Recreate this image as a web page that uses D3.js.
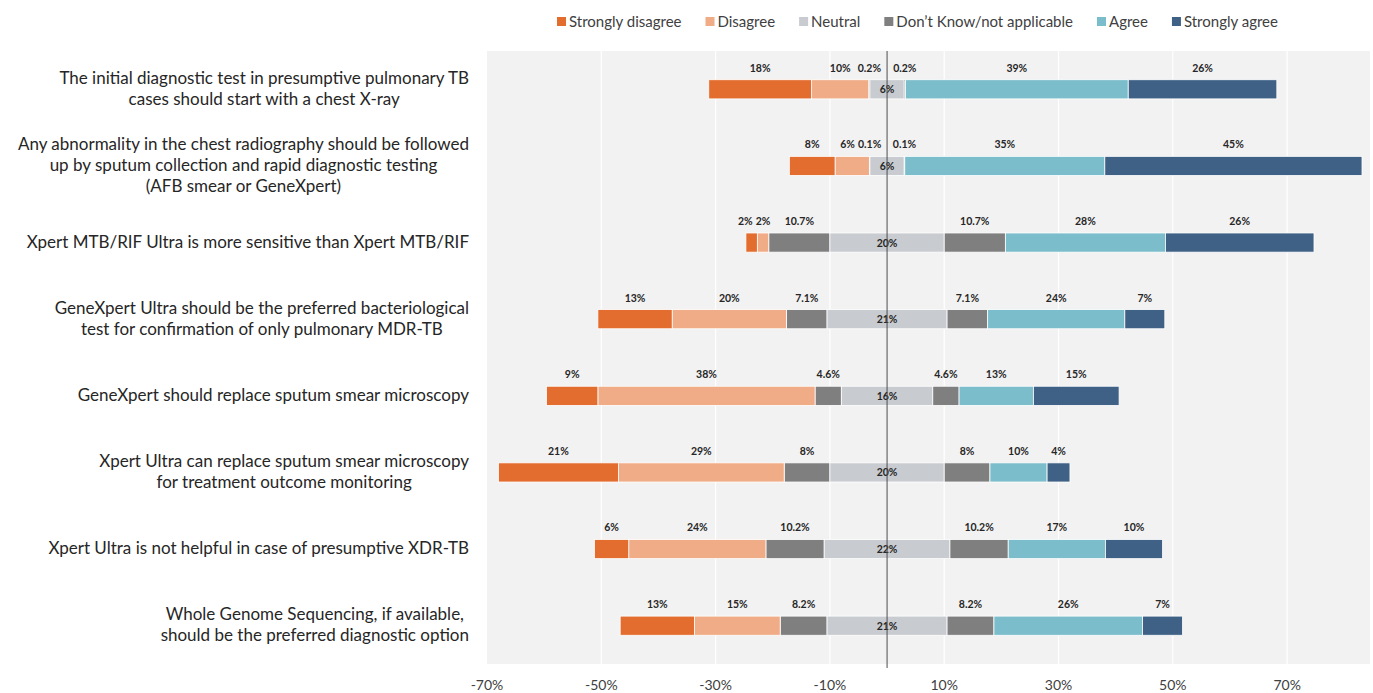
<!DOCTYPE html>
<html lang="en">
<head>
<meta charset="utf-8">
<title>Diverging stacked bar</title>
<script src="https://cdn.jsdelivr.net/npm/d3@7/dist/d3.min.js"></script>
<style>
  body { margin: 0; background: #fff; }
  text { font-family: Lato, "Liberation Sans", sans-serif; }
</style>
</head>
<body>
<script>
// statements, one per row (line breaks as in the picture)
var categories = [
  ["The initial diagnostic test in  presumptive pulmonary TB", "cases should start with a chest X-ray"],
  ["Any abnormality in the chest radiography should be followed", "up by sputum collection and rapid diagnostic testing", "(AFB smear or GeneXpert)"],
  ["Xpert MTB/RIF Ultra is more sensitive than Xpert MTB/RIF"],
  ["GeneXpert Ultra should be the preferred bacteriological", "test for confirmation of only pulmonary MDR-TB"],
  ["GeneXpert  should replace sputum smear microscopy"],
  ["Xpert Ultra can replace sputum smear microscopy", "for treatment outcome monitoring"],
  ["Xpert Ultra is not helpful in case of presumptive XDR-TB"],
  ["Whole Genome Sequencing, if available,", "should be the preferred diagnostic option"]
];
var seriesNames = ["Strongly disagree", "Disagree", "Neutral", "Don\u2019t Know/not applicable", "Agree", "Strongly agree"];
var seriesColors = ["#E36C2F", "#F0AC86", "#C8CBCF", "#7F7F7F", "#7BBDCB", "#3F6185"];

var stronglyDisagree = [18, 8, 2, 13, 9, 21, 6, 13];
var disagree         = [10, 6, 2, 20, 38, 29, 24, 15];
var neutral          = [6, 6, 20, 21, 16, 20, 22, 21];
var dontKnow         = [0.2, 0.1, 10.7, 7.1, 4.6, 8, 10.2, 8.2]; // shown on each side of neutral
var agree            = [39, 35, 28, 24, 13, 10, 17, 26];
var stronglyAgree    = [26, 45, 26, 7, 15, 4, 10, 7];
var tickValues = [-70, -50, -30, -10, 10, 30, 50, 70];

var W = 1373, H = 693;
var plot = { left: 487, right: 1370, top: 51, bottom: 664 };

var svg = d3.select("body").append("svg")
  .attr("width", W).attr("height", H);

var x = d3.scaleLinear().domain([-70, 84.5]).range([plot.left, plot.right]);
var y = d3.scaleBand().domain(d3.range(categories.length))
  .range([plot.top, plot.bottom]).paddingInner(0.75).paddingOuter(0.375);

// plot background
svg.append("rect")
  .attr("x", plot.left).attr("y", plot.top)
  .attr("width", plot.right - plot.left).attr("height", plot.bottom - plot.top)
  .attr("fill", "#F2F2F2");

// white gridlines
svg.selectAll("line.grid").data(tickValues.slice(1)).enter().append("line")
  .attr("class", "grid")
  .attr("x1", function(d) { return x(d); }).attr("x2", function(d) { return x(d); })
  .attr("y1", plot.top).attr("y2", plot.bottom)
  .attr("stroke", "#fff").attr("stroke-width", 1.2);

// build segments: SD, D, DK(left) | N centred on 0 | DK(right), A, SA
var segs = [];
categories.forEach(function(c, i) {
  var half = neutral[i] / 2;
  var left = -half;
  var l = [[3, dontKnow[i]], [1, disagree[i]], [0, stronglyDisagree[i]]];
  l.forEach(function(s, k) {
    segs.push({ row: i, s: s[0], x0: left - s[1], x1: left, v: s[1], side: -1, order: k });
    left -= s[1];
  });
  segs.push({ row: i, s: 2, x0: -half, x1: half, v: neutral[i], inside: true });
  var right = half;
  var r = [[3, dontKnow[i]], [4, agree[i]], [5, stronglyAgree[i]]];
  r.forEach(function(s, k) {
    segs.push({ row: i, s: s[0], x0: right, x1: right + s[1], v: s[1], side: 1, order: k });
    right += s[1];
  });
});

svg.selectAll("rect.seg").data(segs).enter().append("rect")
  .attr("class", "seg")
  .attr("x", function(d) { return x(d.x0); })
  .attr("width", function(d) { return x(d.x1) - x(d.x0); })
  .attr("y", function(d) { return y(d.row); })
  .attr("height", y.bandwidth())
  .attr("fill", function(d) { return seriesColors[d.s]; })
  .attr("stroke", "#fff").attr("stroke-width", 0.8);

// data labels
var labs = svg.selectAll("text.lab").data(segs).enter().append("text")
  .attr("class", "lab")
  .attr("x", function(d) { return x((d.x0 + d.x1) / 2); })
  .attr("y", function(d) { return d.inside ? y(d.row) + y.bandwidth() / 2 + 4 : y(d.row) - 8; })
  .attr("text-anchor", "middle")
  .attr("font-size", "10.5px").attr("font-weight", "bold")
  .attr("fill", "#262626")
  .text(function(d) { return d.v + "%"; });

// push apart labels that would collide (working outward from the centre)
labs.each(function(d) { d.cx = x((d.x0 + d.x1) / 2); d.w = this.getComputedTextLength(); });
categories.forEach(function(c, i) {
  [-1, 1].forEach(function(side) {
    var row = segs.filter(function(d) { return d.row === i && d.side === side; })
      .sort(function(a, b) { return a.order - b.order; });
    var edge = null;
    row.forEach(function(d) {
      if (side < 0) {
        if (edge !== null && d.cx + d.w / 2 > edge - 3) d.cx = edge - 3 - d.w / 2;
        edge = d.cx - d.w / 2;
      } else {
        if (edge !== null && d.cx - d.w / 2 < edge + 3) d.cx = edge + 3 + d.w / 2;
        edge = d.cx + d.w / 2;
      }
    });
  });
});
labs.filter(function(d) { return !d.inside; }).attr("x", function(d) { return d.cx; });

// zero line
svg.append("line")
  .attr("x1", x(0)).attr("x2", x(0))
  .attr("y1", plot.top).attr("y2", plot.bottom + 4)
  .attr("stroke", "#4d4d4d").attr("stroke-width", 1);

// x tick labels
svg.selectAll("text.tick").data(tickValues).enter().append("text")
  .attr("class", "tick")
  .attr("x", function(d) { return x(d); })
  .attr("y", 690)
  .attr("text-anchor", "middle")
  .attr("font-size", "14px").attr("fill", "#404040")
  .text(function(d) { return d + "%"; });

// category labels, lines centred on each other, right edge at 469
var lineH = 21;
categories.forEach(function(lines, i) {
  var g = svg.append("g");
  var cy = y(i) + y.bandwidth() / 2;
  var t = g.selectAll("text").data(lines).enter().append("text")
    .attr("font-size", "17px").attr("fill", "#262626")
    .attr("text-anchor", "middle")
    .attr("y", function(d, k) { return cy + (k - (lines.length - 1) / 2) * lineH + 5; })
    .text(function(d) { return d; });
  var maxW = 0;
  t.each(function() { maxW = Math.max(maxW, this.getComputedTextLength()); });
  t.attr("x", 469 - maxW / 2);
});

// legend
var lx = 557;
seriesNames.forEach(function(n, i) {
  svg.append("rect").attr("x", lx).attr("y", 17).attr("width", 9).attr("height", 9)
    .attr("fill", seriesColors[i]);
  var t = svg.append("text").attr("x", lx + 12).attr("y", 27)
    .attr("font-size", "15px").attr("fill", "#404040").text(n);
  lx += 12 + t.node().getComputedTextLength() + 24;
});
</script>
</body>
</html>
